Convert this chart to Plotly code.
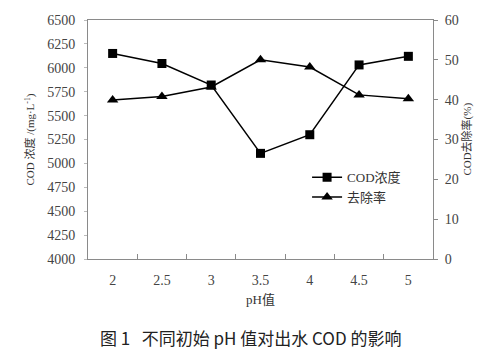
import plotly.graph_objects as go

ph_labels = ["2", "2.5", "3", "3.5", "4", "4.5", "5"]
cod_conc = [6150, 6045, 5820, 5105, 5300, 6030, 6120]
removal_rate = [39.9, 40.8, 43.2, 50.0, 48.2, 41.2, 40.2]

serif = "'Liberation Serif', 'DejaVu Serif', 'Noto Sans CJK SC', serif"
axis_gray = "#8a8a8a"

fig = go.Figure()
fig.add_trace(go.Scatter(
    x=ph_labels, y=cod_conc, name="COD浓度", mode="lines+markers",
    line=dict(color="black", width=1.5),
    marker=dict(symbol="square", size=9, color="black"),
    yaxis="y"))
fig.add_trace(go.Scatter(
    x=ph_labels, y=removal_rate, name="去除率", mode="lines+markers",
    line=dict(color="black", width=1.5),
    marker=dict(symbol="triangle-up", size=10, color="black"),
    yaxis="y2"))

tf = dict(family=serif, size=14, color="#444")
ttf = dict(family=serif, size=11, color="#333")

fig.update_layout(
    width=498, height=353,
    margin=dict(l=88, r=65, t=20, b=94),
    paper_bgcolor="white", plot_bgcolor="white",
    font=dict(family=serif, size=12, color="#333"),
    showlegend=True,
    legend=dict(x=0.635, y=0.405, xanchor="left", yanchor="top",
                bgcolor="rgba(0,0,0,0)", font=dict(family=serif, size=13, color="#333"),
                tracegroupgap=0, itemwidth=30),
    xaxis=dict(type="category", range=[-0.5, 6.5], tickson="boundaries",
               ticks="inside", ticklen=5, tickcolor=axis_gray,
               showline=True, linecolor=axis_gray, linewidth=1,
               mirror=True, showgrid=False, zeroline=False,
               tickfont=tf, ticklabelstandoff=8,
               title=dict(text="pH值", font=dict(family=serif, size=13, color="#333"), standoff=8)),
    yaxis=dict(range=[4000, 6500], dtick=250, ticks="outside", ticklen=3,
               tickcolor="#bbb", showline=True, linecolor=axis_gray, linewidth=1,
               showgrid=False, zeroline=False,
               tickfont=tf, ticklabelstandoff=6),
    yaxis2=dict(range=[0, 60], dtick=10, overlaying="y", side="right",
                ticks="outside", ticklen=4, tickcolor=axis_gray,
                showline=True, linecolor=axis_gray, linewidth=1,
                showgrid=False, zeroline=False,
                tickfont=tf, ticklabelstandoff=4),
)

fig.add_annotation(
    text="COD 浓度 /(mg·L<sup>-1</sup>)", textangle=-90,
    xref="paper", yref="paper", x=-0.168, y=0.5, xanchor="center", yanchor="middle",
    showarrow=False, font=ttf)
fig.add_annotation(
    text="COD去除率(%)", textangle=-90,
    xref="paper", yref="paper", x=1.096, y=0.5, xanchor="center", yanchor="middle",
    showarrow=False, font=ttf)

fig.add_annotation(
    text="图 1   不同初始 pH 值对出水 COD 的影响",
    xref="paper", yref="paper", x=0.47, y=-0.33, xanchor="center", yanchor="middle",
    showarrow=False, font=dict(family="'Noto Sans CJK SC', sans-serif", size=17, color="#222"))

fig.write_html("out.html")
